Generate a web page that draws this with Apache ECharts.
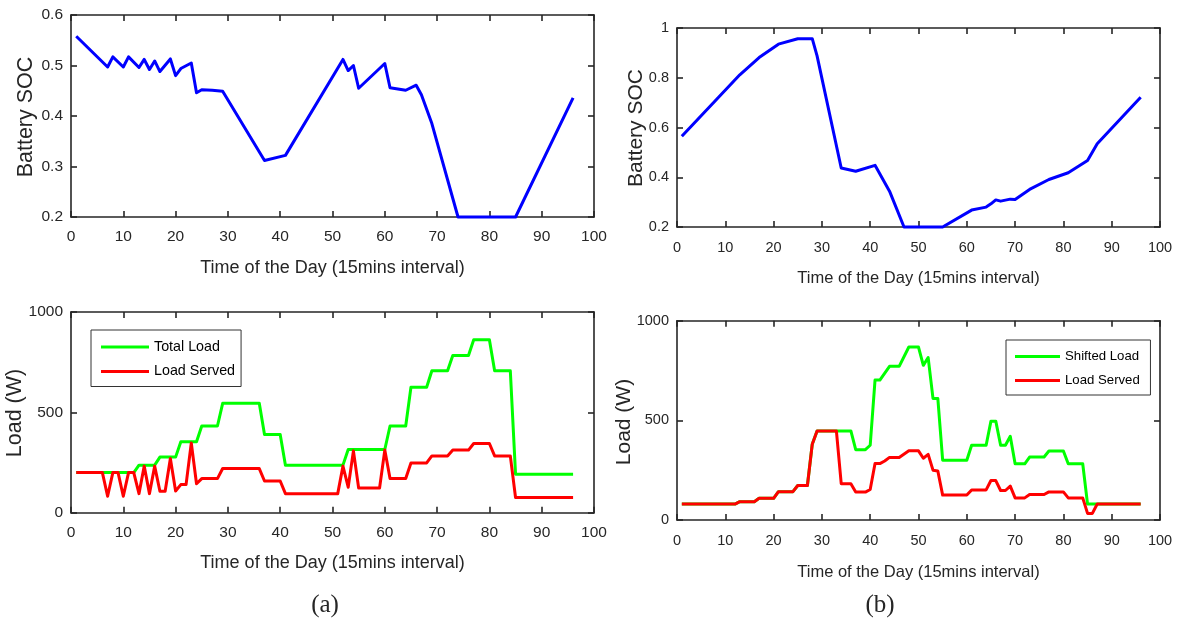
<!DOCTYPE html>
<html>
<head>
<meta charset="utf-8">
<script src="https://cdn.jsdelivr.net/npm/echarts@6/dist/echarts.min.js"></script>
<style>
  html, body { margin: 0; padding: 0; background: #fff; }
  #chart { width: 1178px; height: 624px; }
</style>
</head>
<body>
<div id="chart"></div>
<script>
// ---------- DATA ----------
// Panel (a) top: Battery SOC vertices (x = 15-min interval index)
const socA_x = [1,7,8,10,11,13,14,15,16,17,19,20,21,23,24,25,27,29,37,41,52,53,54,55,60,61,64,66,67,69,74,85,96];
const socA_y = [0.558,0.497,0.517,0.497,0.517,0.496,0.512,0.492,0.509,0.488,0.513,0.480,0.494,0.505,0.446,0.452,0.451,0.449,0.312,0.322,0.512,0.490,0.500,0.455,0.504,0.456,0.451,0.461,0.442,0.385,0.200,0.200,0.436];

// Panel (b) top: Battery SOC vertices
const socB_x = [1,13,17,21,25,28,29,34,37,41,44,47,55,61,64,65,66,67,69,70,73,77,81,85,87,96];
const socB_y = [0.565,0.812,0.881,0.935,0.957,0.957,0.888,0.437,0.424,0.448,0.344,0.200,0.200,0.268,0.280,0.293,0.309,0.304,0.312,0.311,0.351,0.391,0.418,0.467,0.535,0.722];

// Panel (a) bottom: Total Load and Load Served (W)
const totalA_x = [1,12,13,16,17,20,21,24,25,28,29,36,37,40,41,52,53,60,61,64,65,68,69,72,73,76,77,80,81,84,85,96];
const totalA_y = [200,200,237,237,277,277,354,354,432,432,545,545,390,390,237,237,315,315,432,432,625,625,707,707,783,783,862,862,707,707,192,192];
const servedA_x = [1,6,7,8,9,10,11,12,13,14,15,16,17,18,19,20,21,22,23,24,25,28,29,36,37,40,41,51,52,53,54,55,59,60,61,64,65,68,69,72,73,76,77,80,81,84,85,96];
const servedA_y = [200,200,82,200,200,82,200,200,95,232,95,232,107,107,270,108,140,140,347,144,170,170,220,220,158,158,95,95,232,127,308,123,123,312,170,170,248,248,283,283,312,312,345,345,283,283,76,76];

// Panel (b) bottom: Shifted Load and Load Served (W)
const shiftedB_x = [1,12,13,16,17,20,21,24,25,27,28,29,33,36,37,39,40,41,42,44,46,48,50,51,52,53,54,55,60,61,64,65,66,67,68,69,70,72,73,76,77,80,81,84,85,96];
const shiftedB_y = [80,80,92,92,109,109,142,142,173,173,380,447,447,447,353,353,375,702,702,771,771,868,868,776,815,610,610,300,300,375,375,496,496,375,375,420,282,282,316,316,346,346,282,282,80,80];
const servedB_x = [1,12,13,16,17,20,21,24,25,27,28,29,33,34,36,37,39,40,41,42,43,44,46,48,50,51,52,53,54,55,60,61,64,65,66,67,68,69,70,72,73,76,77,80,81,84,85,86,87,96];
const servedB_y = [80,80,92,92,109,109,142,142,173,173,380,447,447,182,182,140,140,153,283,283,296,314,314,347,347,310,329,250,246,125,125,151,151,198,198,148,148,170,111,111,128,128,141,141,111,111,33,33,80,80];

// Axis ranges / labels
const xRange = { min: 0, max: 100, interval: 10 };
const socA_range = { min: 0.2, max: 0.6, interval: 0.1 };
const socB_range = { min: 0.2, max: 1.0, interval: 0.2 };
const load_range = { min: 0, max: 1000, interval: 500 };

const xTitle = 'Time of the Day (15mins interval)';
const socTitle = 'Battery SOC';
const loadTitle = 'Load (W)';
const legendA = ['Total Load', 'Load Served'];
const legendB = ['Shifted Load', 'Load Served'];
const captions = ['(a)', '(b)'];

// ---------- STYLE / LAYOUT ----------
const FONT = "'Liberation Sans', Arial, Helvetica, sans-serif";
const AXC = '#262626';
const zip = (xs, ys) => xs.map((x, i) => [x, ys[i]]);
const plainNum = v => String(Math.round(v * 1000) / 1000);

const grids = [
  { left: 71,  top: 15,    width: 523, height: 202 },   // a top
  { left: 677, top: 28,    width: 483, height: 199 },   // b top
  { left: 71,  top: 312,   width: 523, height: 200.7 }, // a bottom
  { left: 677, top: 320.7, width: 483, height: 199.3 }  // b bottom
];
const fs = [15.5, 14.5, 15.5, 14.5];
const xMargin = [12, 13, 12, 13];
const yRanges = [socA_range, socB_range, load_range, load_range];

const xAxes = [], yAxes = [];
grids.forEach((g, i) => {
  const lineStyle = { color: AXC, width: 1.6 };
  xAxes.push({
    type: 'value', gridIndex: i, position: 'bottom', ...xRange,
    axisLine: { show: true, onZero: false, lineStyle },
    axisTick: { show: true, inside: true, length: 6, lineStyle },
    axisLabel: { show: true, color: AXC, fontFamily: FONT, fontSize: fs[i], margin: xMargin[i], formatter: plainNum },
    splitLine: { show: false }
  });
  xAxes.push({
    type: 'value', gridIndex: i, position: 'top', ...xRange,
    axisLine: { show: true, onZero: false, lineStyle },
    axisTick: { show: true, inside: true, length: 6, lineStyle },
    axisLabel: { show: false }, splitLine: { show: false }
  });
  yAxes.push({
    type: 'value', gridIndex: i, position: 'left', ...yRanges[i],
    axisLine: { show: true, onZero: false, lineStyle },
    axisTick: { show: true, inside: true, length: 6, lineStyle },
    axisLabel: { show: true, color: AXC, fontFamily: FONT, fontSize: fs[i], margin: 8, formatter: plainNum },
    splitLine: { show: false }
  });
  yAxes.push({
    type: 'value', gridIndex: i, position: 'right', ...yRanges[i],
    axisLine: { show: true, onZero: false, lineStyle },
    axisTick: { show: true, inside: true, length: 6, lineStyle },
    axisLabel: { show: false }, splitLine: { show: false }
  });
});

function line(name, data, idx, color) {
  return {
    name, type: 'line', data, xAxisIndex: 2 * idx, yAxisIndex: 2 * idx,
    symbol: 'none', clip: false, animation: false,
    lineStyle: { color, width: 3, join: 'round' }, itemStyle: { color }
  };
}

const series = [
  line('socA', zip(socA_x, socA_y), 0, '#0000ff'),
  line('socB', zip(socB_x, socB_y), 1, '#0000ff'),
  line(legendA[0], zip(totalA_x, totalA_y), 2, '#00ff00'),
  line(legendA[1], zip(servedA_x, servedA_y), 2, '#ff0000'),
  line(legendB[0], zip(shiftedB_x, shiftedB_y), 3, '#00ff00'),
  line(legendB[1] + ' ', zip(servedB_x, servedB_y), 3, '#ff0000')
];

function legend(names, left, top, size, itemW, pad, gap) {
  return {
    data: names.map(n => ({ name: n, icon: 'rect' })),
    orient: 'vertical', left, top,
    itemWidth: itemW, itemHeight: 3, itemGap: gap,
    padding: pad, borderColor: '#333', borderWidth: 1, backgroundColor: '#fff',
    textStyle: { fontFamily: FONT, fontSize: size, color: '#000', padding: [0, 0, 0, 0] },
    selectedMode: false
  };
}

function txt(text, x, y, size, rot, family) {
  return {
    type: 'text', x, y, rotation: rot || 0,
    style: { text, fontFamily: family || FONT, fontSize: size, fill: AXC, align: 'center', verticalAlign: 'middle' },
    silent: true
  };
}

const option = {
  backgroundColor: '#fff',
  animation: false,
  grid: grids.map(g => ({ ...g, containLabel: false })),
  xAxis: xAxes,
  yAxis: yAxes,
  legend: [
    legend(legendA, 91, 330, 14.3, 48, [10, 6, 8, 10], 10.5),
    legend([legendB[0], legendB[1] + ' '], 1006, 340, 13.2, 45, [10, 7, 8, 9], 11)
  ],
  series,
  graphic: [
    txt(xTitle, 332.5, 268, 18),
    txt(xTitle, 918.5, 278, 16.5),
    txt(xTitle, 332.5, 563, 18),
    txt(xTitle, 918.5, 572, 16.5),
    txt(socTitle, 26, 117, 21.5, Math.PI / 2),
    txt(socTitle, 636, 128, 21, Math.PI / 2),
    txt(loadTitle, 15, 413, 21.5, Math.PI / 2),
    txt(loadTitle, 624, 422, 21, Math.PI / 2),
    txt(captions[0], 325, 605, 25, 0, "'Liberation Serif', 'Times New Roman', serif"),
    txt(captions[1], 880, 605, 25, 0, "'Liberation Serif', 'Times New Roman', serif")
  ]
};

const chart = echarts.init(document.getElementById('chart'), null, { renderer: 'canvas' });
chart.setOption(option);
</script>
</body>
</html>
